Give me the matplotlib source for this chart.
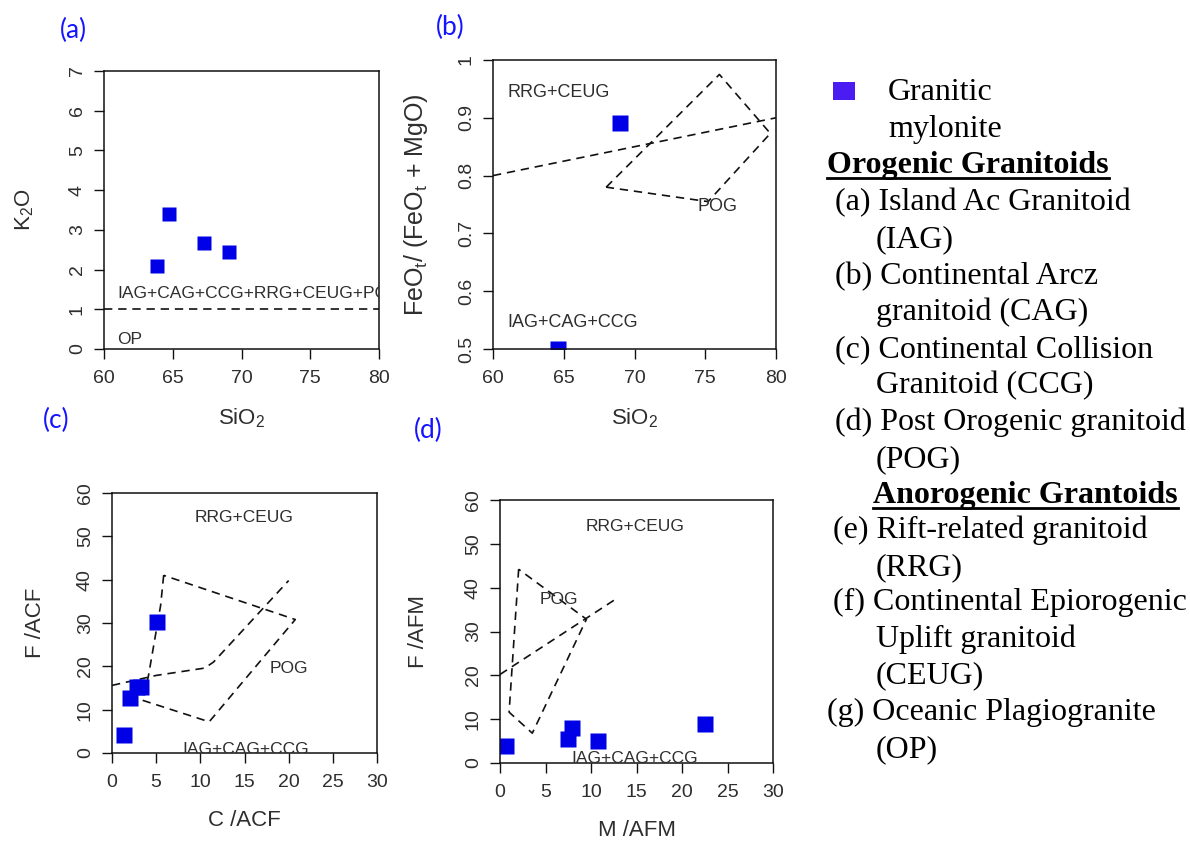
import matplotlib
matplotlib.use("Agg")
import matplotlib.pyplot as plt
from matplotlib.patches import Rectangle
from matplotlib.lines import Line2D

plt.rcParams['font.family'] = ['Liberation Sans', 'DejaVu Sans']
plt.rcParams['mathtext.fontset'] = 'custom'
plt.rcParams['mathtext.rm'] = 'Liberation Sans'
plt.rcParams['mathtext.it'] = 'Liberation Sans:italic'
plt.rcParams['mathtext.default'] = 'regular'

# ---- data ----
# (a) SiO2 vs K2O
a_sio2 = [63.85, 64.7, 67.3, 69.1]
a_k2o = [2.1, 3.4, 2.68, 2.43]
a_line_x = [60, 80]
a_line_y = [1, 1]

# (b) SiO2 vs FeOt/(FeOt+MgO)
b_sio2 = [69.0, 64.6]
b_fe = [0.891, 0.5]
b_line_x = [60, 80]
b_line_y = [0.80, 0.90]
b_pog_x = [68.0, 76.0, 79.6, 75.2, 68.0]
b_pog_y = [0.780, 0.975, 0.873, 0.755, 0.780]

# (c) C/ACF vs F/ACF
c_c = [1.4, 2.0, 2.8, 3.3, 5.1]
c_f = [4.2, 12.6, 15.3, 15.2, 30.2]
c_line_x = [0.0, 5.0, 10.5, 11.5, 20.0]
c_line_y = [15.6, 17.9, 19.6, 21.0, 39.8]
c_pog_x = [5.85, 5.5, 4.1, 3.4, 11.0, 20.75, 5.85]
c_pog_y = [41.0, 34.0, 17.5, 12.2, 7.2, 30.8, 41.0]

# (d) M/AFM vs F/AFM
d_m = [0.65, 7.5, 7.95, 10.75, 22.55]
d_f = [3.8, 5.5, 8.0, 5.1, 8.9]
d_line_x = [0.0, 12.8]
d_line_y = [20.2, 37.5]
d_pog_x = [2.05, 1.0, 3.55, 9.5, 2.05]
d_pog_y = [44.2, 11.6, 6.8, 32.8, 44.2]

legend_lines = [
    ("Granitic", 888, 100, False),
    ("mylonite", 888, 137, False),
    ("Orogenic Granitoids", 827, 173, True),
    ("(a) Island Ac Granitoid", 835, 210, False),
    ("(IAG)", 876, 247, False),
    ("(b) Continental Arcz", 835, 284, False),
    ("granitoid (CAG)", 876, 320, False),
    ("(c) Continental Collision", 835, 357, False),
    ("Granitoid (CCG)", 876, 393, False),
    ("(d) Post Orogenic granitoid", 835, 430, False),
    ("(POG)", 876, 467, False),
    ("Anorogenic Grantoids", 873, 503, True),
    ("(e) Rift-related granitoid", 833, 538, False),
    ("(RRG)", 876, 575, False),
    ("(f) Continental Epiorogenic", 833, 610, False),
    ("Uplift granitoid", 876, 647, False),
    ("(CEUG)", 876, 683, False),
    ("(g) Oceanic Plagiogranite", 827, 720, False),
    ("(OP)", 876, 757, False),
]

W, H = 1190, 843
fig = plt.figure(figsize=(W / 100, H / 100), dpi=100)

TXT = '#2e2e2e'
DASH = (0, (5, 3.5))
LAB = 16


def px_axes(left, top, right, bottom):
    return fig.add_axes([left / W, 1 - bottom / H, (right - left) / W, (bottom - top) / H])


def style(ax, xlim, ylim, xt, yt, ytl=None):
    ax.set_xlim(*xlim)
    ax.set_ylim(*ylim)
    ax.set_xticks(xt)
    ax.set_yticks(yt)
    if ytl is not None:
        ax.set_yticklabels(ytl)
    for s in ax.spines.values():
        s.set_linewidth(1.1)
        s.set_color('#111111')
    ax.tick_params(direction='out', length=7, width=1.0, labelsize=14,
                   labelcolor=TXT, color='#111111')
    ax.tick_params(axis='x', pad=8)
    ax.tick_params(axis='y', pad=6)
    for lab in ax.get_yticklabels():
        lab.set_rotation(90)
        lab.set_va('center')


def panel_letter(x, y, s):
    fig.text(x / W, 1 - y / H, s, color='#1414ff', fontsize=19,
             family=['Lato', 'DejaVu Sans'], ha='center', va='center')


# (a)
ax = px_axes(104, 71, 379, 349)
style(ax, (60, 80), (0, 7), range(60, 81, 5), range(0, 8))
ax.plot(a_line_x, a_line_y, color='#111111', lw=1.2, linestyle=DASH)
ax.plot(a_sio2, a_k2o, 's', color='#0000e6', ms=10, mec='none')
ax.text(61.0, 1.4, "IAG+CAG+CCG+RRG+CEUG+POG", fontsize=12.5, color=TXT,
        va='center', clip_on=True)
ax.text(60.95, 0.25, "OP", fontsize=12.5, color=TXT, va='center')
ax.set_xlabel("SiO$_2$", fontsize=LAB, color=TXT, labelpad=14)
ax.set_ylabel("K$_2$O", fontsize=LAB, color=TXT, labelpad=24)
panel_letter(73, 30, "(a)")

# (b)
ax = px_axes(493, 60, 776, 349)
style(ax, (60, 80), (0.5, 1.0), range(60, 81, 5),
      [0.5, 0.6, 0.7, 0.8, 0.9, 1.0], ['0.5', '0.6', '0.7', '0.8', '0.9', '1'])
ax.plot(b_line_x, b_line_y, color='#111111', lw=1.2, linestyle=DASH)
ax.plot(b_pog_x, b_pog_y, color='#111111', lw=1.2, linestyle=DASH)
ax.plot(b_sio2, b_fe, 's', color='#0000e6', ms=11, mec='none')
ax.text(61.0, 0.943, "RRG+CEUG", fontsize=13, color=TXT, va='center')
ax.text(61.0, 0.545, "IAG+CAG+CCG", fontsize=13, color=TXT, va='center')
ax.text(75.9, 0.746, "POG", fontsize=13, color=TXT, va='center', ha='center')
ax.set_xlabel("SiO$_2$", fontsize=LAB, color=TXT, labelpad=14)
ax.set_ylabel("FeO$_t$/ (FeO$_t$ + MgO)", fontsize=18, color=TXT, labelpad=20)
panel_letter(450, 27, "(b)")

# (c)
ax = px_axes(112, 493, 377, 753)
style(ax, (0, 30), (0, 60), range(0, 31, 5), range(0, 61, 10))
ax.plot(c_line_x, c_line_y, color='#111111', lw=1.2, linestyle=DASH)
ax.plot(c_pog_x, c_pog_y, color='#111111', lw=1.2, linestyle=DASH)
ax.plot(c_c, c_f, 's', color='#0000e6', ms=11.5, mec='none')
ax.text(14.9, 54.3, "RRG+CEUG", fontsize=12.5, color=TXT, va='center', ha='center')
ax.text(20.0, 19.5, "POG", fontsize=12.5, color=TXT, va='center', ha='center')
ax.text(15.1, 0.9, "IAG+CAG+CCG", fontsize=12.5, color=TXT, va='center',
        ha='center', clip_on=True)
ax.set_xlabel("C /ACF", fontsize=LAB, color=TXT, labelpad=14)
ax.set_ylabel("F /ACF", fontsize=LAB, color=TXT, labelpad=22)
panel_letter(56, 420, "(c)")

# (d)
ax = px_axes(500, 500, 773, 763)
style(ax, (0, 30), (0, 60), range(0, 31, 5), range(0, 61, 10))
ax.plot(d_line_x, d_line_y, color='#111111', lw=1.2, linestyle=DASH)
ax.plot(d_pog_x, d_pog_y, color='#111111', lw=1.2, linestyle=DASH)
ax.plot(d_m, d_f, 's', color='#0000e6', ms=11.5, mec='none')
ax.text(14.85, 54.0, "RRG+CEUG", fontsize=12.5, color=TXT, va='center', ha='center')
ax.text(6.5, 37.2, "POG", fontsize=12.5, color=TXT, va='center', ha='center')
ax.text(14.85, 1.0, "IAG+CAG+CCG", fontsize=12.5, color=TXT, va='center',
        ha='center', clip_on=True)
ax.set_xlabel("M /AFM", fontsize=LAB, color=TXT, labelpad=14)
ax.set_ylabel("F /AFM", fontsize=LAB, color=TXT, labelpad=26)
panel_letter(428, 430, "(d)")

# legend / key on the right
fig.add_artist(Rectangle((833 / W, 1 - 100 / H), 22 / W, 18 / H,
                         transform=fig.transFigure, color='#4a1cf2', lw=0))
renderer = fig.canvas.get_renderer()
for text, x, y, bold in legend_lines:
    t = fig.text(x / W, 1 - y / H, text, fontsize=23,
                 family=['Liberation Serif', 'DejaVu Serif'],
                 weight='bold' if bold else 'normal', va='baseline', ha='left')
    if bold:
        bb = t.get_window_extent(renderer=renderer)
        yl = 1 - (y + 5) / H
        fig.add_artist(Line2D([bb.x0 / W, bb.x1 / W], [yl, yl],
                              transform=fig.transFigure, color='black', lw=2))

fig.savefig("out.png", dpi=100)
